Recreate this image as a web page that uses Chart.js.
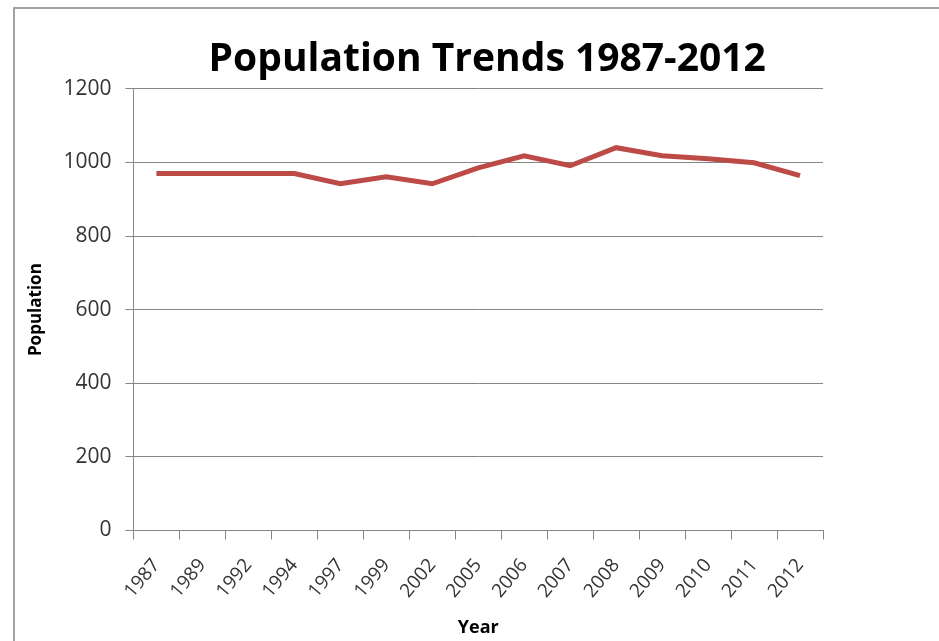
<!DOCTYPE html>
<html>
<head>
    <title>Population Trends 1987-2012</title>
    <script src="https://cdn.jsdelivr.net/npm/chart.js"></script>
    <style>
        body { margin: 0; background: #fff; overflow: hidden; }
        #frame { position: absolute; left: 13px; top: 7px; width: 940px; height: 650px; border: 2px solid #a3a3a3; }
        #wrap { position: absolute; left: 0; top: 0; width: 939px; height: 641px; }
    </style>
</head>
<body>
    <div id="frame"></div>
    <div id="wrap"><canvas id="popChart"></canvas></div>
    <script>
        // data
        const years = ['1987', '1989', '1992', '1994', '1997', '1999', '2002', '2005', '2006', '2007', '2008', '2009', '2010', '2011', '2012'];
        const population = [970, 970, 970, 970, 942, 961, 942, 985, 1018, 991, 1040, 1018, 1010, 999, 964];
        const yTicks = [0, 200, 400, 600, 800, 1000, 1200];

        const fontName = "'Open Sans', 'Noto Sans', sans-serif";

        // centre the title over the plot, like the original
        const centreTitle = {
            id: 'centreTitle',
            afterLayout(chart) {
                const t = chart.titleBlock;
                if (t) {
                    t.left = chart.chartArea.left;
                    t.right = chart.chartArea.right + 18;
                    t.width = t.right - t.left;
                }
            }
        };

        const ctx = document.getElementById('popChart').getContext('2d');
        const chart = new Chart(ctx, {
            type: 'line',
            data: {
                labels: years,
                datasets: [{
                    label: 'Population',
                    data: population,
                    borderColor: '#bc4a47',
                    borderWidth: 5,
                    pointRadius: 0,
                    tension: 0
                }]
            },
            options: {
                responsive: true,
                maintainAspectRatio: false,
                animation: false,
                layout: {
                    padding: { left: 26, right: 116, top: 36, bottom: 2 }
                },
                plugins: {
                    legend: { display: false },
                    tooltip: { enabled: false },
                    title: {
                        display: true,
                        text: 'Population Trends 1987-2012',
                        color: '#000',
                        font: { family: fontName, size: 39, weight: 'bold' },
                        padding: { top: 0, bottom: 6 }
                    }
                },
                scales: {
                    x: {
                        offset: true,
                        grid: {
                            offset: true,
                            drawOnChartArea: false,
                            drawTicks: true,
                            tickLength: 9,
                            color: '#868686'
                        },
                        border: { color: '#868686', width: 1 },
                        ticks: {
                            minRotation: 50,
                            maxRotation: 50,
                            color: '#333',
                            font: { family: fontName, size: 19 },
                            padding: 15
                        },
                        title: {
                            display: true,
                            text: 'Year',
                            color: '#000',
                            font: { family: fontName, size: 18, weight: 'bold' },
                            padding: { top: 0, bottom: 0 }
                        }
                    },
                    y: {
                        min: 0,
                        max: 1200,
                        afterBuildTicks: (axis) => {
                            axis.ticks = yTicks.map(v => ({ value: v }));
                        },
                        grid: {
                            color: '#868686',
                            tickLength: 8
                        },
                        border: { color: '#868686', width: 1 },
                        ticks: {
                            color: '#333',
                            font: { family: fontName, size: 21 },
                            padding: 14,
                            callback: (v) => String(v)
                        },
                        title: {
                            display: true,
                            text: 'Population',
                            color: '#000',
                            font: { family: fontName, size: 17, weight: 'bold' },
                            padding: { top: 0, bottom: 3 }
                        }
                    }
                }
            },
            plugins: [centreTitle]
        });
    </script>
</body>
</html>
